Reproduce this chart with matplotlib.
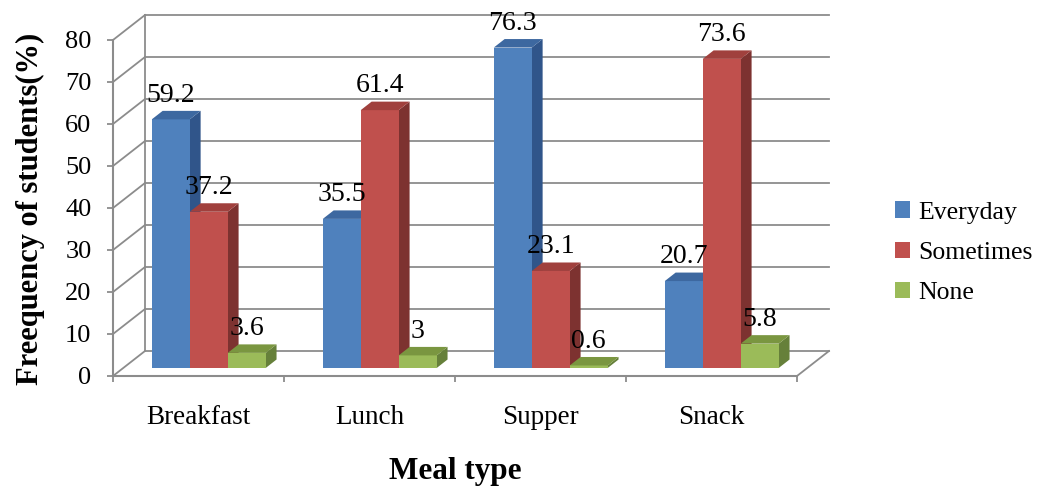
import matplotlib.pyplot as plt
from matplotlib.patches import Polygon, Rectangle

plt.rcParams['font.family'] = ['Liberation Serif', 'DejaVu Serif']

# data
meals = ["Breakfast", "Lunch", "Supper", "Snack"]
series = ["Everyday", "Sometimes", "None"]
everyday = [59.2, 35.5, 76.3, 20.7]
sometimes = [37.2, 61.4, 23.1, 73.6]
none = [3.6, 3.0, 0.6, 5.8]
values = [everyday, sometimes, none]
labels = [["59.2", "35.5", "76.3", "20.7"],
          ["37.2", "61.4", "23.1", "73.6"],
          ["3.6", "3", "0.6", "5.8"]]

# front / side / top colours for each series
front = ["#4F81BD", "#C0504D", "#9BBB59"]
side = ["#30558A", "#7D3230", "#66803A"]
top = ["#3D68A0", "#A0403D", "#7A9640"]

grid_c = "#8C8C8C"
DX, DY = 0.187, 5.95      # full depth of the "3d" box, data units
TF, TD = 0.32, 0.34       # bar front position and bar depth (fraction)
W = 0.222                 # bar width in category units

fig = plt.figure(figsize=(10.37, 4.88), dpi=100)
ax = fig.add_axes([113 / 1037, 1 - 376 / 488, 4.25 * 171 / 1037, 87 * 4.2 / 488])
ax.set_xlim(0, 4.25)
ax.set_ylim(0, 87)

# walls and floor
for v in range(0, 90, 10):
    ax.plot([DX, 4 + DX], [v + DY, v + DY], color=grid_c, lw=1.3, zorder=1)
    ax.plot([0, DX], [v, v + DY], color=grid_c, lw=1.3, zorder=1)
ax.plot([DX, DX], [DY, 80 + DY], color=grid_c, lw=1.3, zorder=1)
ax.plot([4, 4 + DX], [0, DY], color=grid_c, lw=1.3, zorder=1, clip_on=False)

# bars
for i in range(len(meals)):
    for j in range(len(series)):
        v = values[j][i]
        xl = i + (1 - 3 * W) / 2 + j * W + TF * DX
        y0 = TF * DY
        yt = y0 + v
        ox, oy = TD * DX, TD * DY
        ax.add_patch(Polygon([(xl + W, y0), (xl + W, yt), (xl + W + ox, yt + oy),
                              (xl + W + ox, y0 + oy)], closed=True,
                             facecolor=side[j], edgecolor="none", zorder=3 + j))
        ax.add_patch(Rectangle((xl, y0), W, v, facecolor=front[j],
                               edgecolor="none", zorder=3 + j))
        ax.add_patch(Polygon([(xl, yt), (xl + W, yt), (xl + W + ox, yt + oy),
                              (xl + ox, yt + oy)], closed=True,
                             facecolor=top[j], edgecolor="none", zorder=3 + j))
        ax.text(xl + W / 2, yt + oy + 2.2, labels[j][i], ha="center", va="baseline",
                fontsize=20, zorder=10)

# axes lines and ticks
for s in ["top", "right"]:
    ax.spines[s].set_visible(False)
ax.spines["left"].set_bounds(0, 80)
ax.spines["bottom"].set_bounds(0, 4)
for s in ["left", "bottom"]:
    ax.spines[s].set_color(grid_c)
    ax.spines[s].set_linewidth(1.5)
ax.set_yticks(range(0, 90, 10))
ax.tick_params(axis="y", direction="out", length=4.5, width=1.3, color=grid_c,
               labelsize=19, pad=11)
ax.set_xticks(range(5))
ax.set_xticklabels([])
ax.set_xticks([0.5, 1.5, 2.5, 3.5], minor=True)
ax.set_xticklabels(meals, minor=True)
ax.tick_params(axis="x", which="major", direction="out", length=4.5, width=1.3,
               color=grid_c)
ax.tick_params(axis="x", which="minor", length=0, labelsize=19.5, pad=21)
ax.set_facecolor("none")

fig.text(30 / 1037, 1 - 209 / 488, "Freequency of students(%)", rotation=90,
         ha="center", va="center", fontsize=22, fontweight="bold")
fig.text(455 / 1037, 1 - 471 / 488, "Meal type", ha="center", va="center",
         fontsize=22.5, fontweight="bold")

handles = [Rectangle((0, 0), 1, 1, facecolor=c, edgecolor="none") for c in front]
fig.legend(handles, series, loc="center left", bbox_to_anchor=(0.853, 0.482),
           frameon=False, fontsize=18.5, handlelength=0.6, handleheight=0.6,
           handletextpad=0.3, labelspacing=0.7, borderaxespad=0)

fig.savefig("out.png", dpi=100)
